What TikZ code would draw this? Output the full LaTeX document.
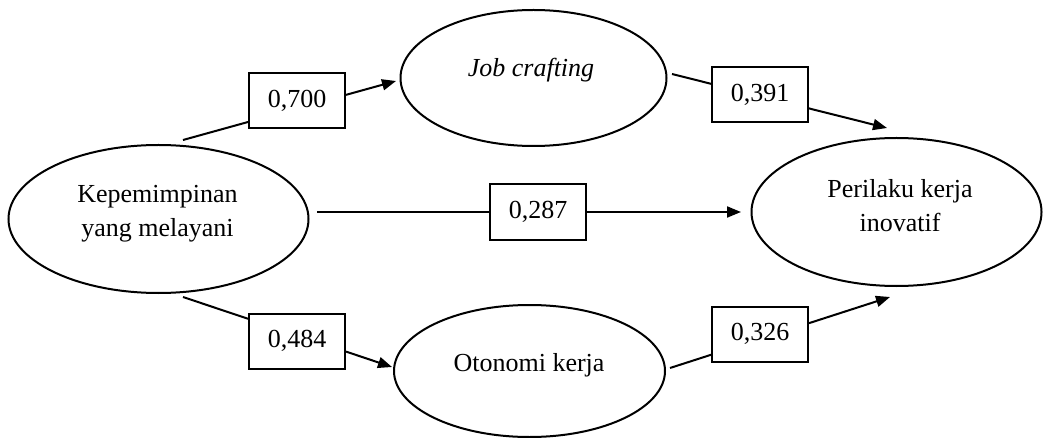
\documentclass[tikz,border=0pt]{standalone}
\usepackage{fontspec}
\setmainfont{Liberation Serif}
\usetikzlibrary{shapes.geometric,arrows.meta}
\begin{document}
\begin{tikzpicture}[x=1pt,y=-1pt,line width=2pt,
  latent/.style={draw, ellipse, inner sep=0pt},
  coef/.style={draw, fill=white, minimum width=96pt, minimum height=55pt, inner sep=0pt,
    font=\fontsize{26}{34}\selectfont},
  lbl/.style={font=\fontsize{26}{34}\selectfont, align=center, inner sep=0pt},
  arr/.style={-{Triangle[length=14pt,width=11pt]}}
]
\useasboundingbox (0,0) rectangle (1043,438);
% latent variables
\node[latent, minimum width=300pt, minimum height=148pt] (kep) at (158.5,219) {};
\node[latent, minimum width=266pt, minimum height=136pt] (job) at (533.5,78) {};
\node[latent, minimum width=271pt, minimum height=132pt] (oto) at (529.5,371) {};
\node[latent, minimum width=290pt, minimum height=148pt] (per) at (896.5,212) {};
% labels
\node[lbl] (kepT) at (157.5,214) {Kepemimpinan\\yang melayani};
\node[lbl, anchor=base] (jobT) at (531,77) {\itshape Job crafting};
\node[lbl, anchor=base] (otoT) at (529,371.7) {Otonomi kerja};
\node[lbl] (perT) at (900,205.5) {Perilaku kerja\\inovatif};
% free ends of connectors
\coordinate (s1) at (183,140); \coordinate (t1) at (396,81);
\coordinate (s2) at (183,297); \coordinate (t2) at (392,367);
\coordinate (s3) at (672,74);  \coordinate (t3) at (887,128);
\coordinate (s4) at (670,368); \coordinate (t4) at (890,297);
\coordinate (s5) at (317,212); \coordinate (t5) at (741,212);
% coefficient boxes
\node[coef] (b1) at (297,101) {0,700};
\node[coef] (b2) at (297,341) {0,484};
\node[coef] (b3) at (760,95) {0,391};
\node[coef] (b4) at (760,334) {0,326};
\node[coef, minimum height=56pt] (b5) at (538,212) {0,287};
% connectors
\draw (s1) -- (intersection of s1--t1 and b1.south west--b1.north west);
\draw[arr] (intersection of s1--t1 and b1.south east--b1.north east) -- (t1);
\draw (s2) -- (intersection of s2--t2 and b2.south west--b2.north west);
\draw[arr] (intersection of s2--t2 and b2.south east--b2.north east) -- (t2);
\draw (s3) -- (intersection of s3--t3 and b3.south west--b3.north west);
\draw[arr] (intersection of s3--t3 and b3.south east--b3.north east) -- (t3);
\draw (s4) -- (intersection of s4--t4 and b4.south west--b4.north west);
\draw[arr] (intersection of s4--t4 and b4.south east--b4.north east) -- (t4);
\draw (s5) -- (b5.west);
\draw[arr] (b5.east) -- (t5);
\end{tikzpicture}
\end{document}
